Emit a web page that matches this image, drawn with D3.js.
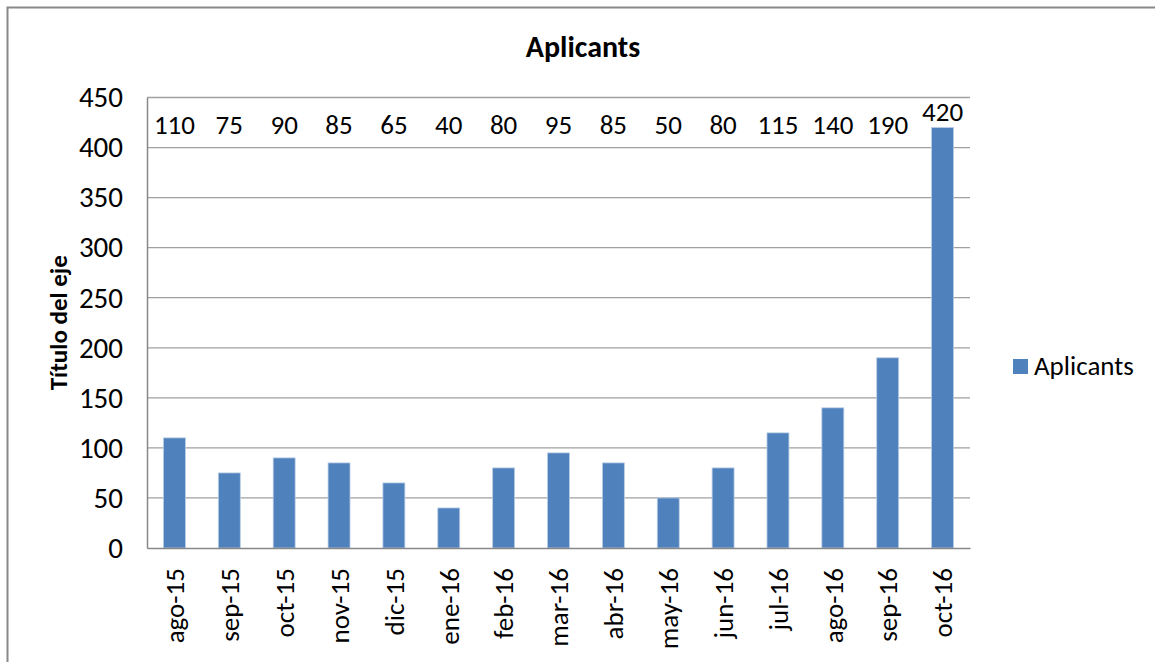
<!DOCTYPE html>
<html>
<head>
<meta charset="utf-8">
<script src="https://cdn.jsdelivr.net/npm/d3@7/dist/d3.min.js"></script>
<style>
  body { margin: 0; background: #fff; }
  text { font-family: Carlito, Calibri, "Open Sans", sans-serif; fill: #000; }
</style>
</head>
<body>
<div id="chart"></div>
<script>
const months = ["ago-15", "sep-15", "oct-15", "nov-15", "dic-15", "ene-16", "feb-16", "mar-16",
                "abr-16", "may-16", "jun-16", "jul-16", "ago-16", "sep-16", "oct-16"]
const aplicants = [110, 75, 90, 85, 65, 40, 80, 95, 85, 50, 80, 115, 140, 190, 420]
const yTicks = [0, 50, 100, 150, 200, 250, 300, 350, 400, 450]

const width = 1155, height = 662
const plot = {left: 147, right: 970, top: 97.5, bottom: 548}
const fontFam = 'Carlito, Calibri, "Open Sans", sans-serif'

let svg = d3.select("#chart").append("svg")
    .attr("width", width).attr("height", height)

// outer chart border (only top and left visible in the picture)
svg.append("rect")
    .attr("x", 7.5).attr("y", 7.5)
    .attr("width", width + 20).attr("height", height + 20)
    .attr("fill", "white").attr("stroke", "#888").attr("stroke-width", 2)

let x = d3.scaleBand().domain(months).range([plot.left, plot.right]).paddingInner(0.6).paddingOuter(0.3)
let y = d3.scaleLinear().domain([0, 450]).range([plot.bottom, plot.top])

// gridlines
svg.append("g").selectAll("line").data(yTicks.filter(d => d > 0)).enter()
    .append("line")
    .attr("x1", plot.left).attr("x2", plot.right)
    .attr("y1", d => y(d)).attr("y2", d => y(d))
    .attr("stroke", "#a0a0a0").attr("stroke-width", 1.3)

// y axis
let yAxis = svg.append("g")
    .attr("transform", `translate(${plot.left},0)`)
    .call(d3.axisLeft(y).tickValues(yTicks).tickSize(0).tickPadding(24))
yAxis.select(".domain").attr("stroke", "#888").attr("stroke-width", 1.5)
yAxis.selectAll("text").attr("font-size", 29).style("font-family", fontFam)

// bars
svg.append("g").selectAll("rect").data(aplicants).enter()
    .append("rect")
    .attr("x", (d, i) => x(months[i]))
    .attr("y", d => y(d))
    .attr("width", x.bandwidth())
    .attr("height", d => y(0) - y(d))
    .attr("fill", "#4f81bd")
    .attr("stroke", "#b9cde5").attr("stroke-width", 0.8)

// x axis
let xAxis = svg.append("g")
    .attr("transform", `translate(0,${plot.bottom})`)
    .call(d3.axisBottom(x).tickSize(0).tickSizeOuter(0))
xAxis.select(".domain").attr("stroke", "#888").attr("stroke-width", 1.5)
xAxis.selectAll("text")
    .attr("font-size", 27)
    .style("font-family", fontFam)
    .attr("text-anchor", "end")
    .attr("transform", "rotate(-90)")
    .attr("x", -20).attr("y", 0).attr("dy", "0.36em")

// data labels near the top of the plot
svg.append("g").selectAll("text").data(aplicants).enter()
    .append("text")
    .attr("x", (d, i) => x(months[i]) + x.bandwidth() / 2)
    .attr("y", d => Math.min(y(d) - 7, 134))
    .attr("text-anchor", "middle")
    .attr("font-size", 27)
    .text(d => d)

// title
svg.append("text")
    .attr("x", 583).attr("y", 57)
    .attr("text-anchor", "middle")
    .attr("font-size", 30).attr("font-weight", "bold")
    .text("Aplicants")

// y axis title
svg.append("text")
    .attr("transform", `translate(67,${(plot.top + plot.bottom) / 2}) rotate(-90)`)
    .attr("text-anchor", "middle")
    .attr("font-size", 25).attr("font-weight", "bold")
    .text("Título del eje")

// legend
let legend = svg.append("g").attr("transform", "translate(1013,359)")
legend.append("rect").attr("width", 15).attr("height", 15).attr("fill", "#4f81bd")
legend.append("text").attr("x", 21).attr("y", 16).attr("font-size", 27).text("Aplicants")
</script>
</body>
</html>
